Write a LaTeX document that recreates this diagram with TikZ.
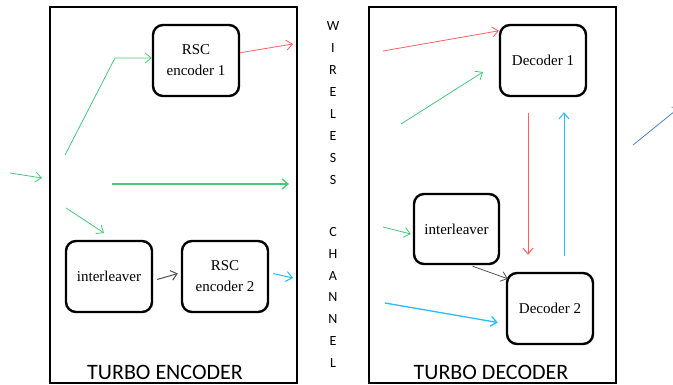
\documentclass[tikz,border=0pt]{standalone}
\usepackage{fontspec}
\setmainfont{Liberation Serif}
\newfontfamily\labelfont{Carlito}
\usetikzlibrary{arrows.meta,calc}
\definecolor{lred}{RGB}{255,95,95}
\definecolor{lgreen}{RGB}{70,200,120}
\definecolor{lcyan}{RGB}{40,190,245}
\definecolor{lblue}{RGB}{80,130,200}
\definecolor{lgray}{RGB}{80,80,80}

\begin{document}
\begin{tikzpicture}[x=1pt,y=-1pt,
	block/.style={draw,line width=2.4pt,rounded corners=10pt,minimum width=86pt,minimum height=71pt,align=center,inner sep=0pt,font=\fontsize{15}{21}\selectfont},
	frame/.style={draw,line width=2.6pt,minimum width=247pt,minimum height=376pt,inner sep=0pt},
	arr/.style={-{Straight Barb[length=6pt,width=10pt]},line width=0.8pt},
	chan/.style={inner sep=0pt,font=\labelfont\fontsize{14}{14}\selectfont},
	title/.style={inner sep=0pt,font=\labelfont\fontsize{22}{22}\selectfont}]
				\useasboundingbox (0,0) rectangle (673,385);
				
				% encoder side
				\node[frame] (enc) at (173.5,195) {};
				\node[title] (enctitle) at (165,372) {TURBO ENCODER};
				\node[block] (rsc1) at (196,60.5) {RSC\\encoder 1};
				\node[block] (intl1) at (109,276.5) {interleaver};
				\node[block] (rsc2) at (225,276.5) {RSC\\encoder 2};
				
				\coordinate (src) at (10,173);
				\coordinate (srcend) at (42,178);
				\coordinate (split) at (65,155);
				\coordinate (bend) at (115,58);
				\coordinate (sysa) at (112,184);
				\coordinate (sysb) at (289,184);
				\coordinate (ila) at (66,208);
				\coordinate (ilb) at (104,233);
				\coordinate (out1) at (293,44);
				\coordinate (out2) at (293,278);
				
				\draw[arr,lgreen] (src) -- (srcend);
				\draw[arr,lgreen] (split) -- (bend) -- (rsc1.west |- bend);
				\draw[arr,lgreen,line width=1.3pt] (sysa) -- (sysb);
				\draw[arr,lgreen] (ila) -- (ilb);
				\draw[arr,lred] (rsc1.10) -- (out1);
				\draw[arr,lgray,line width=1pt] ($(intl1.east)+(4,3)$) -- ($(rsc2.west)+(-3,-3)$);
				\draw[arr,lcyan,line width=1pt] ($(rsc2.east)+(4,-3)$) -- (out2);
				
				% channel
				\foreach \l [count=\i from 0] in {W,I,R,E,L,E,S,S}
					\node[chan] (w\i) at (333,26+22*\i) {\l};
				\foreach \l [count=\i from 0] in {C,H,A,N,N,E,L}
					\node[chan] (c\i) at (333,232+21.8*\i) {\l};
				
				% decoder side
				\node[frame] (dec) at (492.5,195) {};
				\node[title] (dectitle) at (491,372) {TURBO DECODER};
				\node[block] (dec1) at (543,60.5) {Decoder 1};
				\node[block,minimum width=85pt,minimum height=70pt] (intl2) at (456.5,229) {interleaver};
				\node[block] (dec2) at (550,308.5) {Decoder 2};
				
				\coordinate (ina) at (383,51);
				\coordinate (inb) at (401,124);
				\coordinate (inbend) at (483,72);
				\coordinate (inc) at (383,227);
				\coordinate (ind) at (385,303);
				\coordinate (resa) at (633,145);
				\coordinate (resb) at (680,107);
				
				\draw[arr,lred] (ina) -- ($(dec1.north west)+(0,7)$);
				\draw[arr,lgreen] (inb) -- (inbend);
				\draw[arr,lgreen] (inc) -- ($(intl2.west)+(-2,5)$);
				\draw[arr,lcyan,line width=1.3pt] (ind) -- ($(dec2.west)+(-8,14)$);
				\draw[arr,lgray] ($(intl2.south)+(16,1)$) -- ($(dec2.north west)+(2,7)$);
				\draw[arr,lred,line width=1pt] ($(dec1.south)+(-15,16)$) -- ($(dec2.north)+(-22,-17)$);
				\draw[arr,lcyan,line width=1pt] ($(dec2.north)+(14,-16)$) -- ($(dec1.south)+(21,15)$);
				\draw[arr,lblue] (resa) -- (resb);
			\end{tikzpicture}
\end{document}
